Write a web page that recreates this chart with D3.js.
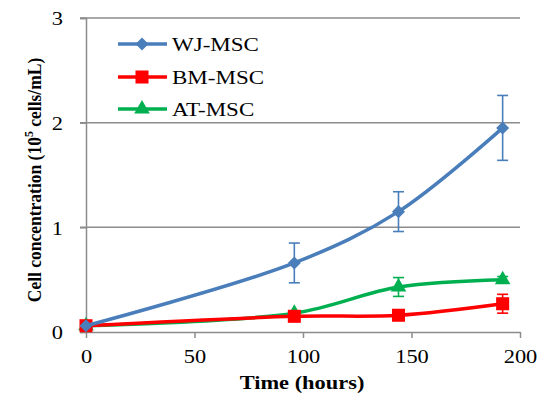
<!DOCTYPE html>
<html>
<head>
<meta charset="utf-8">
<script src="https://cdn.jsdelivr.net/npm/d3@7"></script>
<style>
  body { margin: 0; background: #fff; }
</style>
</head>
<body>
<div id="chart"></div>
<script>
// hours of culture
var hours = [0, 96, 144, 192];
// series names
var seriesNames = ["WJ-MSC", "BM-MSC", "AT-MSC"];
// cell concentration (10^5 cells/mL) and error bars
var wjValues = [0.06, 0.66, 1.15, 1.95];
var wjErrors = [0, 0.19, 0.19, 0.31];
var bmValues = [0.06, 0.15, 0.16, 0.27];
var bmErrors = [0, 0.02, 0.02, 0.09];
var atValues = [0.06, 0.18, 0.43, 0.50];
var atErrors = [0, 0.02, 0.09, 0.03];
var xTicks = [0, 50, 100, 150, 200];
var yTicks = [0, 1, 2, 3];

var width = 541, height = 394;
var stretch = 1.18; // the original picture is a bit wider than tall
var colors = ["#4a7ebb", "#ff0000", "#00b050"];
var markers = [d3.symbolSquare, d3.symbolSquare, d3.symbolTriangle];
var markerSize = [85, 170, 105];
var markerRot = [45, 0, 0];

var series = [
    {name: seriesNames[0], values: wjValues, errors: wjErrors},
    {name: seriesNames[1], values: bmValues, errors: bmErrors},
    {name: seriesNames[2], values: atValues, errors: atErrors}
];

var svg = d3.select("#chart").append("svg")
    .attr("width", width)
    .attr("height", height)
    .style("font-family", "'Liberation Serif', serif");

var x = d3.scaleLinear().domain([0, 200]).range([86, 520]);
var y = d3.scaleLinear().domain([0, 3]).range([332, 18]);

// gridlines
svg.append("g")
    .selectAll("line")
    .data(yTicks.slice(1))
    .enter().append("line")
    .attr("x1", 80).attr("x2", 520)
    .attr("y1", function(d) { return y(d); })
    .attr("y2", function(d) { return y(d); })
    .attr("stroke", "#8c8c8c")
    .attr("stroke-width", 1.5);

// y axis
var yAxis = svg.append("g")
    .attr("transform", "translate(86,0)")
    .call(d3.axisLeft(y).tickValues(yTicks).tickSize(6).tickFormat(d3.format("d")));
yAxis.attr("font-family", null);
yAxis.select(".domain").attr("stroke", "#8c8c8c").attr("stroke-width", 1.5);
yAxis.selectAll(".tick line").attr("stroke", "#8c8c8c").attr("stroke-width", 1.5);
yAxis.selectAll(".tick text")
    .attr("font-size", 19).attr("fill", "#000")
    .attr("x", -23 / stretch).attr("dy", "0.36em")
    .attr("transform", "scale(" + stretch + ",1)");

// x axis
var xAxis = svg.append("g")
    .attr("transform", "translate(0,332)")
    .call(d3.axisBottom(x).tickValues(xTicks).tickSize(6).tickSizeOuter(0));
xAxis.attr("font-family", null);
xAxis.select(".domain").attr("stroke", "#8c8c8c").attr("stroke-width", 1.5);
xAxis.selectAll(".tick line").attr("stroke", "#8c8c8c").attr("stroke-width", 1.5);
xAxis.selectAll(".tick text")
    .attr("font-size", 19).attr("fill", "#000")
    .attr("y", 31).attr("dy", 0)
    .attr("transform", "scale(" + stretch + ",1)");

// axis titles
svg.append("text")
    .attr("transform", "translate(41,180) rotate(-90) scale(1,1.12)")
    .attr("text-anchor", "middle")
    .attr("font-size", 17.5)
    .attr("font-weight", "bold")
    .html("Cell concentration (10<tspan dy='-7' font-size='12'>5</tspan><tspan dy='7'> cells/mL)</tspan>");

svg.append("text")
    .attr("transform", "translate(302,389) scale(" + stretch + ",1)")
    .attr("text-anchor", "middle")
    .attr("font-size", 19)
    .attr("font-weight", "bold")
    .text("Time (hours)");

var line = d3.line()
    .x(function(d, i) { return x(hours[i]); })
    .y(function(d) { return y(d); })
    .curve(d3.curveCatmullRom.alpha(0.5));

function markerPath(k) {
    return d3.symbol().type(markers[k]).size(markerSize[k])();
}

// draw order: AT, BM, WJ so blue sits on top
[2, 1, 0].forEach(function(k) {
    var s = series[k];
    var g = svg.append("g");
    g.append("path")
        .attr("d", line(s.values))
        .attr("fill", "none")
        .attr("stroke", colors[k])
        .attr("stroke-width", 3.5);

    // error bars
    s.values.forEach(function(v, i) {
        if (!s.errors[i]) return;
        var cx = x(hours[i]);
        var top = y(v + s.errors[i]), bot = y(v - s.errors[i]);
        g.append("line").attr("x1", cx).attr("x2", cx).attr("y1", top).attr("y2", bot)
            .attr("stroke", colors[k]).attr("stroke-width", 1.6);
        [top, bot].forEach(function(yy) {
            g.append("line").attr("x1", cx - 5.5).attr("x2", cx + 5.5).attr("y1", yy).attr("y2", yy)
                .attr("stroke", colors[k]).attr("stroke-width", 1.6);
        });
    });

    g.selectAll("path.mk")
        .data(s.values)
        .enter().append("path")
        .attr("class", "mk")
        .attr("d", markerPath(k))
        .attr("transform", function(d, i) {
            return "translate(" + x(hours[i]) + "," + y(d) + ") rotate(" + markerRot[k] + ")";
        })
        .attr("fill", colors[k]);
});

// legend
var legend = svg.append("g");
series.forEach(function(s, k) {
    var ly = [44, 77, 109][k];
    legend.append("line")
        .attr("x1", 118).attr("x2", 167).attr("y1", ly).attr("y2", ly)
        .attr("stroke", colors[k]).attr("stroke-width", 3.5);
    legend.append("path")
        .attr("d", markerPath(k))
        .attr("transform", "translate(142," + ly + ") rotate(" + markerRot[k] + ")")
        .attr("fill", colors[k]);
    legend.append("text")
        .attr("transform", "translate(172," + (ly + 6.5) + ") scale(" + stretch + ",1)")
        .attr("font-size", 19.5)
        .text(s.name);
});
</script>
</body>
</html>
